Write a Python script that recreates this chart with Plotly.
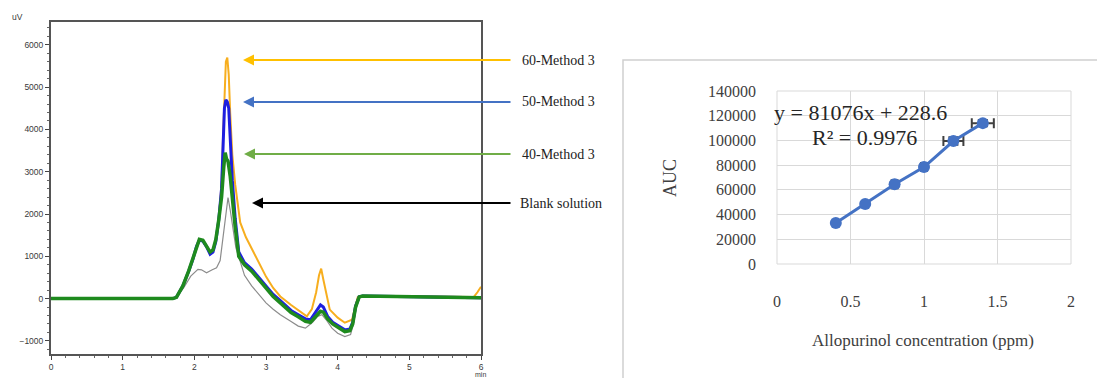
import plotly.graph_objects as go

# ---------------- Chromatogram data (min, uV) ----------------
t_blank = [0, 1.0, 1.7, 1.75, 1.85, 1.95, 2.05, 2.1, 2.17, 2.25, 2.31, 2.36, 2.40, 2.44, 2.47, 2.50,
           2.54, 2.58, 2.62, 2.7, 2.8, 2.9, 3.0, 3.1, 3.2, 3.35, 3.45, 3.55, 3.65, 3.72, 3.78, 3.84,
           3.92, 4.0, 4.1, 4.18, 4.22, 4.27, 4.32, 4.4, 5.0, 5.5, 6.0]
y_blank = [0, 0, 0, 30, 250, 530, 690, 680, 610, 680, 730, 900, 1470, 2100, 2390, 2100,
           1630, 1200, 990, 550, 300, 100, -100, -250, -380, -540, -650, -700, -560, -420, -380, -500,
           -700, -820, -900, -850, -600, -140, 60, 40, 30, 20, 10]

t_40 = [0, 1.0, 1.7, 1.75, 1.84, 1.92, 1.98, 2.03, 2.07, 2.12, 2.17, 2.22, 2.26, 2.30, 2.34, 2.38,
        2.41, 2.43, 2.45, 2.47, 2.50, 2.53, 2.57, 2.62, 2.7, 2.8, 2.9, 3.0, 3.1, 3.2, 3.35, 3.45,
        3.55, 3.62, 3.7, 3.76, 3.8, 3.86, 3.93, 4.0, 4.1, 4.17, 4.21, 4.25, 4.3, 4.35, 5.0, 5.5, 6.0]
y_40 = [0, 0, 0, 30, 300, 650, 950, 1250, 1400, 1380, 1250, 1100, 1150, 1400, 1850, 2400,
        3100, 3450, 3300, 3250, 2900, 2300, 1700, 1000, 800, 650, 450, 250, 50, -100, -330, -430,
        -540, -560, -420, -300, -320, -480, -600, -680, -780, -760, -600, -200, 40, 60, 50, 30, 20]

t_50 = [0, 1.0, 1.7, 1.75, 1.84, 1.92, 1.98, 2.03, 2.07, 2.12, 2.17, 2.22, 2.26, 2.30, 2.34, 2.38,
        2.40, 2.42, 2.44, 2.46, 2.48, 2.50, 2.53, 2.57, 2.62, 2.7, 2.8, 2.9, 3.0, 3.1, 3.2, 3.35,
        3.45, 3.55, 3.62, 3.7, 3.76, 3.8, 3.86, 3.93, 4.0, 4.1, 4.17, 4.21, 4.25, 4.3, 4.35, 5.0, 5.5, 6.0]
y_50 = [0, 0, 0, 30, 300, 640, 930, 1230, 1380, 1360, 1230, 1050, 1100, 1350, 1850, 2600,
        3500, 4500, 4700, 4650, 4500, 3700, 2800, 1900, 1100, 850, 700, 500, 300, 100, -50, -280,
        -380, -480, -500, -300, -150, -200, -420, -560, -640, -740, -720, -560, -180, 40, 60, 50, 30, 20]

t_60 = [0, 1.0, 1.7, 1.75, 1.84, 1.92, 1.98, 2.03, 2.07, 2.12, 2.17, 2.22, 2.26, 2.30, 2.34, 2.38,
        2.40, 2.42, 2.44, 2.46, 2.48, 2.50, 2.53, 2.57, 2.64, 2.72, 2.82, 2.92, 3.0, 3.1, 3.2, 3.35,
        3.47, 3.57, 3.64, 3.70, 3.74, 3.77, 3.80, 3.84, 3.89, 4.0, 4.1, 4.2, 4.24, 4.28, 4.33, 5.0,
        5.5, 5.9, 5.95, 6.0]
y_60 = [0, 0, 0, 30, 300, 640, 930, 1230, 1380, 1360, 1230, 1080, 1120, 1380, 1900, 2700,
        3800, 4800, 5600, 5700, 5300, 4400, 3400, 2700, 1800, 1450, 1110, 800, 520, 250, 50, -150,
        -300, -420, -250, 150, 550, 710, 450, 100, -260, -450, -570, -500, -200, 30, 60, 50,
        40, 40, 150, 280]

chrom_labels = ["60-Method 3", "50-Method 3", "40-Method 3", "Blank solution"]

# ---------------- Calibration data ----------------
conc = [0.4, 0.6, 0.8, 1.0, 1.2, 1.4]
auc = [33200, 48600, 64500, 78500, 99500, 114000]
err_x = [0, 0, 0.02, 0.02, 0.068, 0.075]
err_y = [0, 800, 1500, 1800, 3000, 2500]
eq_text = "y = 81076x + 228.6"
r2_text = "R² = 0.9976"

W, H = 1097, 378

def px(x):
    return x / W

def py(y):
    return 1 - y / H

fig = go.Figure()

# chromatogram traces
fig.add_trace(go.Scatter(x=t_blank, y=y_blank, mode="lines", line=dict(color="#8c8c8c", width=1.2),
                         xaxis="x", yaxis="y", showlegend=False))
fig.add_trace(go.Scatter(x=t_60, y=y_60, mode="lines", line=dict(color="#F7AE1E", width=2),
                         xaxis="x", yaxis="y", showlegend=False))
fig.add_trace(go.Scatter(x=t_50, y=y_50, mode="lines", line=dict(color="#1E1EE0", width=3),
                         xaxis="x", yaxis="y", showlegend=False))
fig.add_trace(go.Scatter(x=t_40, y=y_40, mode="lines", line=dict(color="#1E8A1E", width=3.5),
                         xaxis="x", yaxis="y", showlegend=False))

# calibration trace
fig.add_trace(go.Scatter(x=conc, y=auc, mode="lines+markers",
                         line=dict(color="#4472C4", width=3),
                         marker=dict(color="#4472C4", size=12, symbol="circle"),
                         error_x=dict(type="data", array=err_x, color="#404040", thickness=2, width=5),
                         error_y=dict(type="data", array=err_y, color="#404040", thickness=2, width=5),
                         xaxis="x2", yaxis="y2", showlegend=False))

small_font = dict(family="Liberation Sans, Arial", size=8.5, color="#3a3a3a")
serif = "Liberation Serif, Times New Roman, serif"

fig.update_layout(
    width=W, height=H,
    margin=dict(l=0, r=0, t=0, b=0, autoexpand=False),
    paper_bgcolor="white", plot_bgcolor="white",
    xaxis=dict(domain=[px(51), px(481)], range=[0, 6], dtick=1, ticks="outside", ticklen=4,
               tickcolor="#444", showgrid=False, zeroline=False, showline=True, mirror=True,
               linecolor="#555", linewidth=2, tickfont=small_font, automargin=False,
               minor=dict(dtick=0.2, ticks="outside", ticklen=2, tickcolor="#666"),
               anchor="y"),
    yaxis=dict(domain=[py(354), py(22)], range=[-1310, 6540], dtick=1000, ticks="outside", ticklen=4,
               tickcolor="#444", showgrid=False, zeroline=False, showline=True, mirror=True,
               linecolor="#555", linewidth=2, tickfont=small_font, automargin=False,
               minor=dict(dtick=200, ticks="outside", ticklen=2, tickcolor="#666"),
               anchor="x"),
    xaxis2=dict(domain=[px(777), px(1071)], range=[0, 2], dtick=0.5, showgrid=True,
                gridcolor="#d9d9d9", gridwidth=1, zeroline=False, showline=False, automargin=False,
                tickfont=dict(family=serif, size=16, color="#404040"), ticklabelstandoff=26,
                anchor="y2"),
    yaxis2=dict(domain=[py(264), py(91)], range=[0, 140000], dtick=20000, showgrid=True,
                gridcolor="#d9d9d9", gridwidth=1, zeroline=False, showline=False, automargin=False,
                tickformat="d",
                tickfont=dict(family=serif, size=16, color="#404040"), ticklabelstandoff=20,
                anchor="x2"),
)

# right chart frame and plot-area border
fig.add_shape(type="rect", xref="paper", yref="paper", x0=px(623), x1=1.02, y0=-0.05, y1=py(60),
              line=dict(color="#d0d0d0", width=1.5), fillcolor="rgba(0,0,0,0)", layer="below")
fig.add_shape(type="rect", xref="x2 domain", yref="y2 domain", x0=0, x1=1, y0=0, y1=1,
              line=dict(color="#d9d9d9", width=1), layer="below")

annotations = []
# arrows on chromatogram
arrow_specs = [
    (243, 60, 512, "#FFC000", chrom_labels[0], 520),
    (243, 102, 512, "#4472C4", chrom_labels[1], 520),
    (244, 154, 512, "#70AD47", chrom_labels[2], 520),
    (252, 203, 512, "#000000", chrom_labels[3], 518),
]
for tipx, yy, tailx, col, lab, tx in arrow_specs:
    annotations.append(dict(xref="paper", yref="paper", x=px(tipx), y=py(yy), ax=tailx - tipx, ay=0,
                            text="", showarrow=True, arrowhead=2, arrowsize=1.1, arrowwidth=2,
                            arrowcolor=col, standoff=0, startstandoff=0))
    annotations.append(dict(xref="paper", yref="paper", x=px(tx), y=py(yy), text=lab, showarrow=False,
                            xanchor="left", yanchor="middle",
                            font=dict(family=serif, size=14, color="#222222")))

annotations += [
    dict(xref="paper", yref="paper", x=px(10), y=py(17), text="uV", showarrow=False,
         xanchor="left", yanchor="middle", font=small_font),
    dict(xref="paper", yref="paper", x=px(481), y=py(374), text="min", showarrow=False,
         xanchor="center", yanchor="middle", font=dict(family="Liberation Sans, Arial", size=7, color="#3a3a3a")),
    dict(xref="paper", yref="paper", x=px(772), y=py(112), text=eq_text, showarrow=False,
         xanchor="left", yanchor="middle", font=dict(family=serif, size=22, color="#262626")),
    dict(xref="paper", yref="paper", x=px(810), y=py(137), text=r2_text, showarrow=False,
         xanchor="left", yanchor="middle", font=dict(family=serif, size=22, color="#262626")),
    dict(xref="paper", yref="paper", x=px(670), y=py(178), text="AUC", showarrow=False, textangle=-90,
         xanchor="center", yanchor="middle", font=dict(family=serif, size=18, color="#404040")),
    dict(xref="paper", yref="paper", x=px(923), y=py(340), text="Allopurinol concentration (ppm)",
         showarrow=False, xanchor="center", yanchor="middle",
         font=dict(family=serif, size=17, color="#404040")),
]
fig.update_layout(annotations=annotations)

fig.write_html("out.html",
               config={"displayModeBar": False},
               post_script="document.body.style.margin='0';document.body.style.padding='0';"
                           "document.documentElement.style.overflow='hidden';")
